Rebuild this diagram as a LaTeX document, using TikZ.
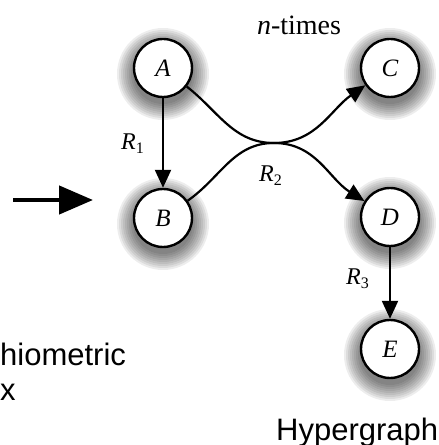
\documentclass[tikz,border=0pt]{standalone}
\usepackage{fontspec}
\setmainfont{Liberation Serif}
\newfontfamily\capsans{Liberation Sans}
\usetikzlibrary{arrows.meta,backgrounds}
\tikzset{
  species/.style={circle,draw,line width=2.4pt,fill=white,minimum size=58pt,inner sep=0pt},
  react/.style={line width=2.2pt,-{Triangle[length=18pt,width=16pt]}},
  rlabel/.style={anchor=base west,inner sep=0pt,font=\fontsize{24}{24}\selectfont},
  caption/.style={anchor=base west,inner sep=0pt,font=\fontsize{31}{31}\selectfont\capsans}
}
\newcommand{\rname}[1]{\textit{R}\textsubscript{\fontsize{16}{16}\selectfont #1}}
\newcommand{\spname}[1]{{\fontsize{25}{25}\selectfont\itshape #1}}

\begin{document}
\begin{tikzpicture}
[x=1pt,y=1pt]
\useasboundingbox (0,0) rectangle (439,445);
% species
\node[species] (A) at (163,377) {\spname{A}};
\node[species] (B) at (163,227) {\spname{B}};
\node[species] (C) at (390,377) {\spname{C}};
\node[species] (D) at (390,228) {\spname{D}};
\node[species] (E) at (390,96) {\spname{E}};
\coordinate (hub) at (274,302);
% soft shadows
\begin{scope}[on background layer]
\foreach \n in {A,B,C,D,E}
  \foreach \r in {30,32,...,46}
    \fill[black,opacity=0.07] ([yshift=-6pt]\n.center) circle (\r pt);
\end{scope}
% reactions
\draw[react] (A) -- (B);
\draw[react] (A) to[out=-38,in=180] (hub) to[out=0,in=148] (D);
\draw[react] (B) to[out=35,in=180] (hub) to[out=0,in=-145] (C);
\draw[react] (D) -- (E);
\node[rlabel] (r1) at (121,295) {\rname{1}};
\node[rlabel] (r2) at (259,263) {\rname{2}};
\node[rlabel] (r3) at (346,160) {\rname{3}};
\node[anchor=base,inner sep=0pt,font=\fontsize{28}{28}\selectfont] (ntimes) at (299,410) {\textit{n}-times};
% left part
\coordinate (arrS) at (13,245);
\coordinate (arrE) at (93,245);
\draw[line width=4.5pt,-{Triangle[length=34pt,width=28pt]}] (arrS) -- (arrE);
\node[caption] (stoich) at (0,79) {hiometric};
\node[caption] (matx) at (0,45) {x};
\node[caption] (hyper) at (276,5) {Hypergraph};
\end{tikzpicture}
\end{document}
